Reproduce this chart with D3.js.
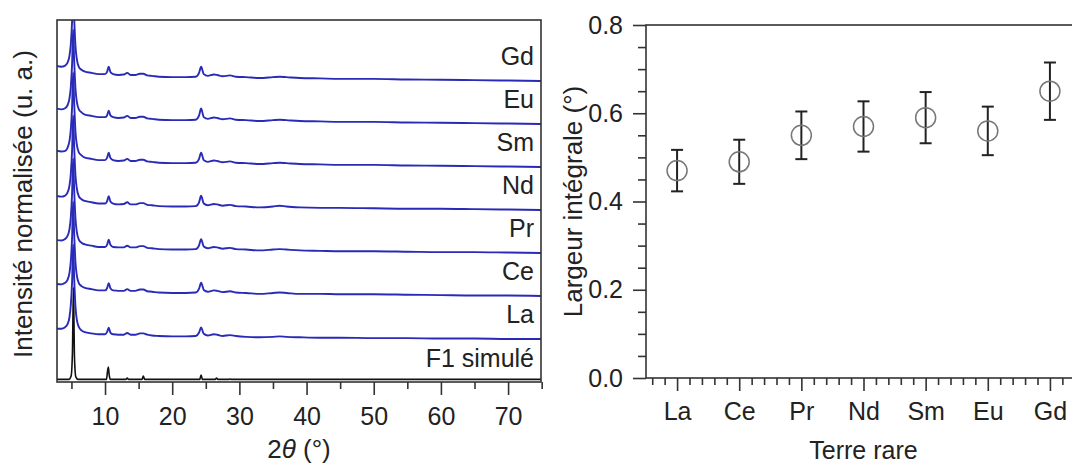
<!DOCTYPE html>
<html>
<head>
<meta charset="utf-8">
<script src="https://cdn.jsdelivr.net/npm/d3@7"></script>
<style>
  html, body { margin: 0; padding: 0; background: #fff; }
  svg { display: block; font-family: "Liberation Sans", Arial, sans-serif; }
</style>
</head>
<body>
<svg id="chart" width="1072" height="466"></svg>
<script>
// ---------- Left panel data (XRD patterns) ----------
const twoTheta = [2.8, 3.5, 4.0, 4.4, 4.7, 4.9, 5.1, 5.25, 5.4, 5.6, 5.8, 6.1, 6.5, 7.0, 8.0, 9.0, 10.0, 10.3, 10.55, 10.8, 11.2, 12.0, 12.8, 13.3, 13.8, 14.5, 15.2, 15.7, 16.3, 17.0, 18.0, 20.0, 22.0, 23.5, 24.0, 24.3, 24.7, 25.3, 26.2, 26.7, 27.5, 28.6, 29.5, 31.0, 33.0, 35.0, 36.0, 37.0, 39.0, 42.0, 45.0, 50.0, 55.0, 60.0, 65.0, 70.0, 75.0];

const sampleNames = ["La", "Ce", "Pr", "Nd", "Sm", "Eu", "Gd"];
const sampleOffsets = [1, 2, 3, 4, 5, 6, 7];

const intLa = [0.24,0.24,0.27,0.34,0.50,0.78,1.35,2.20,1.45,0.75,0.45,0.28,0.20,0.16,0.13,0.11,0.11,0.16,0.26,0.15,0.11,0.10,0.10,0.14,0.10,0.10,0.13,0.13,0.10,0.08,0.07,0.06,0.06,0.07,0.15,0.27,0.12,0.08,0.11,0.10,0.07,0.09,0.07,0.05,0.04,0.05,0.06,0.05,0.04,0.03,0.03,0.02,0.02,0.01,0.01,0.00,0.00];
const intCe = [0.28,0.27,0.30,0.37,0.53,0.80,1.38,2.20,1.48,0.78,0.48,0.30,0.23,0.19,0.16,0.13,0.13,0.18,0.30,0.18,0.13,0.12,0.12,0.16,0.12,0.12,0.15,0.15,0.11,0.10,0.08,0.07,0.07,0.08,0.17,0.31,0.14,0.10,0.13,0.12,0.09,0.11,0.08,0.07,0.05,0.07,0.08,0.07,0.05,0.05,0.04,0.04,0.03,0.02,0.01,0.01,0.00];
const intPr = [0.30,0.29,0.32,0.39,0.55,0.82,1.40,2.20,1.50,0.80,0.49,0.31,0.24,0.20,0.17,0.14,0.14,0.19,0.31,0.19,0.14,0.13,0.13,0.17,0.13,0.13,0.16,0.16,0.12,0.11,0.09,0.08,0.08,0.09,0.18,0.32,0.15,0.11,0.14,0.13,0.10,0.12,0.09,0.08,0.06,0.08,0.09,0.08,0.06,0.05,0.04,0.04,0.03,0.02,0.02,0.01,0.00];
const intNd = [0.33,0.31,0.33,0.40,0.56,0.83,1.40,2.20,1.50,0.80,0.50,0.32,0.25,0.21,0.18,0.15,0.15,0.20,0.32,0.20,0.15,0.13,0.14,0.18,0.13,0.13,0.16,0.16,0.12,0.11,0.09,0.08,0.08,0.09,0.18,0.33,0.15,0.11,0.14,0.13,0.10,0.12,0.09,0.08,0.06,0.08,0.10,0.08,0.06,0.05,0.05,0.04,0.03,0.03,0.02,0.01,0.00];
const intSm = [0.38,0.36,0.37,0.44,0.60,0.86,1.42,2.20,1.52,0.82,0.52,0.34,0.27,0.22,0.19,0.16,0.16,0.21,0.33,0.21,0.16,0.14,0.15,0.19,0.14,0.14,0.17,0.17,0.13,0.12,0.10,0.09,0.09,0.10,0.19,0.33,0.16,0.12,0.15,0.14,0.11,0.13,0.10,0.09,0.07,0.09,0.10,0.09,0.07,0.06,0.05,0.05,0.035,0.03,0.02,0.01,0.00];
const intEu = [0.36,0.34,0.36,0.43,0.59,0.85,1.41,2.20,1.51,0.82,0.52,0.34,0.27,0.22,0.19,0.16,0.16,0.20,0.31,0.20,0.16,0.14,0.15,0.19,0.14,0.14,0.17,0.17,0.13,0.12,0.10,0.09,0.09,0.10,0.20,0.36,0.16,0.12,0.15,0.14,0.11,0.13,0.10,0.09,0.07,0.09,0.10,0.09,0.07,0.06,0.05,0.05,0.035,0.03,0.02,0.01,0.00];
const intGd = [0.35,0.33,0.35,0.42,0.58,0.84,1.40,2.20,1.50,0.81,0.51,0.33,0.26,0.22,0.19,0.16,0.16,0.21,0.33,0.21,0.16,0.14,0.15,0.19,0.14,0.14,0.17,0.17,0.13,0.12,0.10,0.09,0.09,0.10,0.19,0.33,0.16,0.12,0.15,0.14,0.11,0.13,0.10,0.09,0.07,0.09,0.10,0.09,0.07,0.06,0.05,0.05,0.035,0.03,0.02,0.01,0.00];
const sampleIntensities = [intLa, intCe, intPr, intNd, intSm, intEu, intGd];

const simName = "F1 simulé";
const simTwoTheta = [2.8, 4.6, 4.95, 5.15, 5.3, 5.45, 5.65, 6.0, 10.2, 10.4, 10.5, 10.6, 10.8, 13.1, 13.3, 13.5, 15.5, 15.7, 15.9, 24.1, 24.3, 24.5, 26.4, 26.6, 26.8, 28.4, 28.6, 28.8, 36.0, 75.0];
const simIntensity = [0.06, 0.06, 0.14, 0.70, 2.20, 0.58, 0.12, 0.06, 0.06, 0.28, 0.35, 0.19, 0.06, 0.06, 0.09, 0.06, 0.06, 0.14, 0.06, 0.06, 0.16, 0.06, 0.06, 0.09, 0.06, 0.06, 0.07, 0.06, 0.06, 0.06];

const xTicksMajor = [10, 20, 30, 40, 50, 60, 70];
const xTicksMinor = [5, 15, 25, 35, 45, 55, 65, 75];

// ---------- Right panel data (integral width) ----------
const rareEarths = ["La", "Ce", "Pr", "Nd", "Sm", "Eu", "Gd"];
const widthValues = [0.47, 0.49, 0.55, 0.57, 0.59, 0.56, 0.65];
const widthErrors = [0.047, 0.050, 0.054, 0.057, 0.058, 0.055, 0.065];
const yTicksMajor = [0.0, 0.2, 0.4, 0.6, 0.8];

// ---------- Drawing ----------
const svg = d3.select("#chart");
const frameColor = "#333";
const blue = "#2a2ab8";

// Left panel
const L = { left: 57, right: 541, top: 20, bottom: 382 };
const xL = d3.scaleLinear().domain([2.85, 74.9]).range([L.left, L.right]);
const yL = d3.scaleLinear().domain([0, (L.bottom - L.top) / 43]).range([L.bottom, L.top]);

svg.append("defs").append("clipPath").attr("id", "clipL")
  .append("rect").attr("x", L.left).attr("y", L.top)
  .attr("width", L.right - L.left).attr("height", L.bottom - L.top);

const gL = svg.append("g");
const plotL = gL.append("g").attr("clip-path", "url(#clipL)");

const line = d3.line().curve(d3.curveMonotoneX);

// simulated pattern (black)
plotL.append("path")
  .attr("d", line(simTwoTheta.map((t, i) => [xL(t), yL(simIntensity[i])])))
  .attr("fill", "none").attr("stroke", "#111").attr("stroke-width", 1.6);

// experimental patterns (blue)
sampleNames.forEach((name, k) => {
  const vals = sampleIntensities[k];
  plotL.append("path")
    .attr("d", line(twoTheta.map((t, i) => [xL(t), yL(sampleOffsets[k] + vals[i])])))
    .attr("fill", "none").attr("stroke", blue).attr("stroke-width", 1.9)
    .attr("stroke-linejoin", "round");
});

// sample labels
sampleNames.forEach((name, k) => {
  gL.append("text").attr("x", L.right - 7).attr("y", yL(sampleOffsets[k]) - 16)
    .attr("text-anchor", "end").attr("font-size", 25).attr("fill", "#222").text(name);
});
gL.append("text").attr("x", L.right - 7).attr("y", yL(0) - 15)
  .attr("text-anchor", "end").attr("font-size", 25).attr("fill", "#222").text(simName);

// frame
gL.append("rect").attr("x", L.left).attr("y", L.top)
  .attr("width", L.right - L.left).attr("height", L.bottom - L.top)
  .attr("fill", "none").attr("stroke", frameColor).attr("stroke-width", 1.6);

// x axis
const axL = gL.append("g").attr("transform", `translate(0,${L.bottom})`)
  .call(d3.axisBottom(xL).tickValues(xTicksMajor).tickSize(13).tickSizeOuter(0).tickPadding(12).tickFormat(d3.format("d")));
axL.select(".domain").remove();
axL.selectAll(".tick line").attr("stroke", frameColor).attr("stroke-width", 1.6);
axL.selectAll(".tick text").attr("font-size", 25).attr("fill", "#222").attr("font-family", "Liberation Sans, Arial, sans-serif");
const axLm = gL.append("g").attr("transform", `translate(0,${L.bottom})`)
  .call(d3.axisBottom(xL).tickValues(xTicksMinor).tickSize(7).tickSizeOuter(0).tickFormat(""));
axLm.select(".domain").remove();
axLm.selectAll(".tick line").attr("stroke", frameColor).attr("stroke-width", 1.6);

// titles
const tX = gL.append("text").attr("x", (L.left + L.right) / 2).attr("y", 458)
  .attr("text-anchor", "middle").attr("font-size", 26).attr("fill", "#222");
tX.append("tspan").text("2");
tX.append("tspan").attr("font-style", "italic").text("θ");
tX.append("tspan").text(" (°)");

gL.append("text").attr("transform", `translate(32,${(L.top + L.bottom) / 2 + 3}) rotate(-90)`)
  .attr("text-anchor", "middle").attr("font-size", 26).attr("fill", "#222")
  .text("Intensité normalisée (u. a.)");

// Right panel
const R = { left: 646, right: 1081, top: 25, bottom: 378 };
const xR = d3.scaleLinear().domain([0.5, rareEarths.length + 0.5]).range([R.left, R.right]);
const yR = d3.scaleLinear().domain([0, 0.8]).range([R.bottom, R.top]);
const gR = svg.append("g");

gR.append("rect").attr("x", R.left).attr("y", R.top)
  .attr("width", R.right - R.left).attr("height", R.bottom - R.top)
  .attr("fill", "none").attr("stroke", frameColor).attr("stroke-width", 1.6);

// y axis
const minorY = d3.range(0, 17).map(i => i * 0.05).filter(v => !yTicksMajor.some(m => Math.abs(m - v) < 1e-9));
const ayR = gR.append("g").attr("transform", `translate(${R.left},0)`)
  .call(d3.axisLeft(yR).tickValues(yTicksMajor).tickSize(13).tickSizeOuter(0).tickPadding(10).tickFormat(d3.format(".1f")));
ayR.select(".domain").remove();
ayR.selectAll(".tick line").attr("stroke", frameColor).attr("stroke-width", 1.6);
ayR.selectAll(".tick text").attr("font-size", 25).attr("fill", "#222").attr("font-family", "Liberation Sans, Arial, sans-serif");
const ayRm = gR.append("g").attr("transform", `translate(${R.left},0)`)
  .call(d3.axisLeft(yR).tickValues(minorY).tickSize(8).tickSizeOuter(0).tickFormat(""));
ayRm.select(".domain").remove();
ayRm.selectAll(".tick line").attr("stroke", frameColor).attr("stroke-width", 1.6);

// x axis
const catIdx = rareEarths.map((d, i) => i + 1);
const minorX = d3.range(3, 38).map(i => i * 0.2).filter(v => Math.abs(v - Math.round(v)) > 1e-6);
const axR = gR.append("g").attr("transform", `translate(0,${R.bottom})`)
  .call(d3.axisBottom(xR).tickValues(catIdx).tickSize(13).tickSizeOuter(0).tickPadding(11).tickFormat(d => rareEarths[d - 1]));
axR.select(".domain").remove();
axR.selectAll(".tick line").attr("stroke", frameColor).attr("stroke-width", 1.6);
axR.selectAll(".tick text").attr("font-size", 25).attr("fill", "#222").attr("font-family", "Liberation Sans, Arial, sans-serif");
const axRm = gR.append("g").attr("transform", `translate(0,${R.bottom})`)
  .call(d3.axisBottom(xR).tickValues(minorX).tickSize(7).tickSizeOuter(0).tickFormat(""));
axRm.select(".domain").remove();
axRm.selectAll(".tick line").attr("stroke", frameColor).attr("stroke-width", 1.6);

// error bars + points
const pts = gR.append("g");
rareEarths.forEach((name, i) => {
  const cx = xR(i + 1);
  const y0 = yR(widthValues[i] - widthErrors[i]);
  const y1 = yR(widthValues[i] + widthErrors[i]);
  const g = pts.append("g").attr("stroke", "#222").attr("stroke-width", 2);
  g.append("line").attr("x1", cx).attr("x2", cx).attr("y1", y0).attr("y2", y1);
  g.append("line").attr("x1", cx - 6).attr("x2", cx + 6).attr("y1", y0).attr("y2", y0);
  g.append("line").attr("x1", cx - 6).attr("x2", cx + 6).attr("y1", y1).attr("y2", y1);
  pts.append("circle").attr("cx", cx).attr("cy", yR(widthValues[i])).attr("r", 10)
    .attr("fill", "none").attr("stroke", "#777").attr("stroke-width", 1.5);
});

// titles
gR.append("text").attr("x", (R.left + R.right) / 2).attr("y", 459)
  .attr("text-anchor", "middle").attr("font-size", 25).attr("fill", "#222").text("Terre rare");
gR.append("text").attr("transform", `translate(582,${(R.top + R.bottom) / 2}) rotate(-90)`)
  .attr("text-anchor", "middle").attr("font-size", 26).attr("fill", "#222")
  .text("Largeur intégrale (°)");
</script>
</body>
</html>
